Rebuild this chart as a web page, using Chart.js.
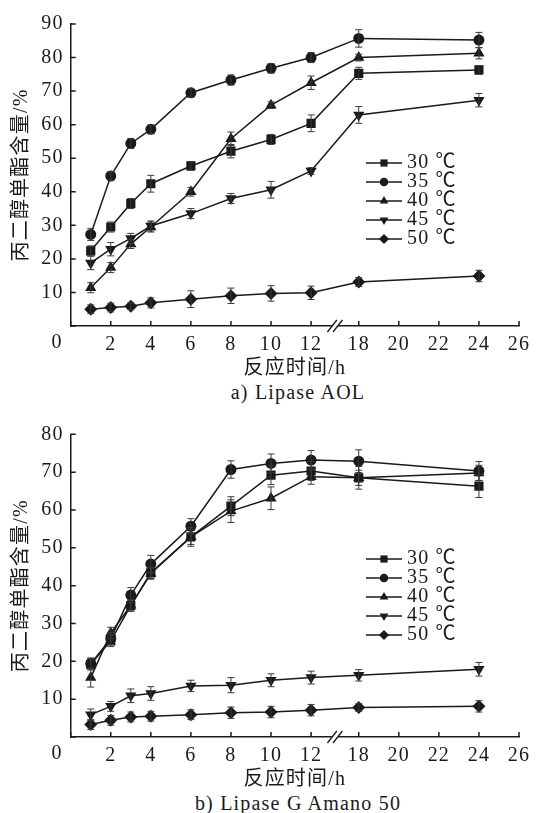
<!DOCTYPE html>
<html>
<head>
<meta charset="utf-8">
<script src="https://cdn.jsdelivr.net/npm/chart.js@4"></script>
<style>
  body { margin: 0; background: #fff; width: 536px; }
  canvas { display: block; }
  .cap { font: 20px 'Times New Roman', 'Liberation Serif', 'Noto Sans CJK SC', serif; color: #1a1a1a; text-align: center;
         height: 22px; line-height: 22px; padding-left: 60px; letter-spacing: 1.2px; }
</style>
</head>
<body>
<canvas id="chartA" width="536" height="381"></canvas>
<div class="cap">a) Lipase AOL</div>
<canvas id="chartB" width="536" height="389"></canvas>
<div class="cap">b) Lipase G Amano 50</div>
<script>
const hours = [1, 2, 3, 4, 6, 8, 10, 12, 18, 24];
const xTicks = [0, 2, 4, 6, 8, 10, 12, 18, 20, 22, 24, 26];
const seriesNames = ['30 ℃', '35 ℃', '40 ℃', '45 ℃', '50 ℃'];

// a) Lipase AOL
const aol30 = [22.4, 29.5, 36.5, 42.4, 47.7, 52.1, 55.6, 60.4, 75.3, 76.3];
const aol35 = [27.3, 44.7, 54.4, 58.6, 69.5, 73.3, 76.8, 80.0, 85.7, 85.2];
const aol40 = [11.4, 17.4, 24.4, 29.5, 40.0, 55.8, 65.8, 72.5, 80.0, 81.3];
const aol45 = [18.8, 22.9, 26.1, 29.8, 33.5, 38.0, 40.6, 46.2, 62.9, 67.3];
const aol50 = [5.0, 5.5, 5.9, 6.9, 8.0, 9.0, 9.7, 9.9, 13.1, 14.9];
const aol30Err = [1.5, 1.5, 1.5, 2.5, 1.3, 2.0, 1.5, 2.5, 1.8, 1.3];
const aol35Err = [1.8, 1.2, 1.5, 1.3, 1.3, 1.5, 1.4, 1.5, 2.6, 2.3];
const aol40Err = [1.5, 1.5, 1.3, 1.5, 1.3, 2.0, 1.0, 2.0, 1.0, 1.7];
const aol45Err = [2.0, 2.0, 1.5, 1.5, 1.5, 1.5, 2.5, 1.0, 2.5, 2.0];
const aol50Err = [1.3, 1.3, 1.0, 1.5, 2.5, 2.3, 2.3, 2.0, 1.3, 1.7];

// b) Lipase G Amano 50
const g30 = [19.2, 25.4, 34.7, 43.4, 52.9, 61.0, 69.2, 70.3, 68.5, 66.3];
const g35 = [19.4, 26.0, 37.5, 45.7, 55.7, 70.7, 72.3, 73.2, 72.9, 70.3];
const g40 = [15.7, 27.5, 34.8, 43.2, 52.9, 59.7, 63.1, 68.8, 68.5, 69.8];
const g45 = [5.9, 8.1, 10.9, 11.5, 13.5, 13.7, 15.0, 15.7, 16.3, 17.9];
const g50 = [3.3, 4.4, 5.3, 5.5, 5.9, 6.4, 6.6, 7.1, 7.8, 8.1];
const g30Err = [1.5, 1.5, 1.5, 1.5, 2.0, 2.5, 2.5, 2.5, 3.0, 3.0];
const g35Err = [1.5, 1.5, 2.0, 2.3, 2.0, 2.3, 2.5, 2.5, 3.0, 2.5];
const g40Err = [2.5, 1.5, 1.5, 1.5, 2.5, 3.0, 3.0, 2.0, 2.0, 2.0];
const g45Err = [1.5, 1.3, 1.8, 1.8, 1.5, 2.0, 1.7, 1.7, 1.5, 1.8];
const g50Err = [1.3, 1.3, 1.3, 1.3, 1.3, 1.5, 1.5, 1.5, 1.0, 1.5];

// axis is broken between 12 h and 18 h
const GAP = 2.38;
const toAxis = h => h <= 12 ? h : h - 18 + 12 + GAP;

const FONT = "'Times New Roman', 'Liberation Serif', 'Noto Sans CJK SC', serif";
const INK = '#1a1a1a';
const markers = [
  { pointStyle: 'rect', radius: 6.5, rotation: 0 },
  { pointStyle: 'circle', radius: 5.5, rotation: 0 },
  { pointStyle: 'triangle', radius: 6.5, rotation: 0 },
  { pointStyle: 'triangle', radius: 6.5, rotation: 180 },
  { pointStyle: 'rectRot', radius: 6.5, rotation: 0 }
];

// error bars, inner ticks, axis break, origin label, legend
const decor = {
  id: 'decor',
  beforeDraw(chart) {
    chart.ctx.letterSpacing = '1.2px';
  },
  afterDraw(chart, args, opts) {
    const ctx = chart.ctx;
    const { left, top, bottom } = chart.chartArea;
    const xs = chart.scales.x, ys = chart.scales.y;
    ctx.save();
    ctx.strokeStyle = '#3a3a3a';
    ctx.fillStyle = INK;

    ctx.lineWidth = 1;
    chart.data.datasets.forEach((ds, i) => {
      chart.getDatasetMeta(i).data.forEach((pt, j) => {
        const v = ds.data[j].y, e = ds.errors[j];
        const y1 = ys.getPixelForValue(v + e), y2 = ys.getPixelForValue(v - e);
        ctx.beginPath();
        ctx.moveTo(pt.x, y1); ctx.lineTo(pt.x, y2);
        ctx.moveTo(pt.x - 3.5, y1); ctx.lineTo(pt.x + 3.5, y1);
        ctx.moveTo(pt.x - 3.5, y2); ctx.lineTo(pt.x + 3.5, y2);
        ctx.stroke();
      });
    });

    ctx.strokeStyle = INK;
    ctx.lineWidth = 1.5;
    ctx.beginPath();
    xs.ticks.forEach(t => {
      const px = xs.getPixelForValue(t.value);
      ctx.moveTo(px, bottom); ctx.lineTo(px, bottom - 5);
    });
    ys.ticks.forEach(t => {
      const py = ys.getPixelForValue(t.value);
      ctx.moveTo(left, py); ctx.lineTo(left + 5, py);
    });
    ctx.stroke();

    const cx = xs.getPixelForValue((toAxis(12) + toAxis(18)) / 2);
    ctx.fillStyle = '#fff';
    ctx.fillRect(cx - 3, bottom - 2, 6, 4);
    ctx.fillStyle = INK;
    ctx.lineWidth = 1.3;
    ctx.beginPath();
    [-2.8, 2.8].forEach(d => {
      ctx.moveTo(cx + d - 4.7, bottom + 6); ctx.lineTo(cx + d + 4.7, bottom - 6);
    });
    ctx.stroke();

    ctx.font = '20px ' + FONT;
    ctx.textAlign = 'center';
    ctx.textBaseline = 'middle';
    ctx.fillText('0', left - 13.5, bottom + 17);

    chart.data.datasets.forEach((ds, i) => {
      const yy = opts.y + i * opts.step;
      ctx.lineWidth = 1.5;
      ctx.beginPath();
      ctx.moveTo(opts.x, yy); ctx.lineTo(opts.x + 36, yy);
      ctx.stroke();
      Chart.helpers.drawPoint(ctx, { pointStyle: markers[i].pointStyle, radius: markers[i].radius * 0.78,
        rotation: markers[i].rotation, borderWidth: 0 }, opts.x + 18, yy);
      ctx.textAlign = 'left';
      ctx.fillText(ds.label, opts.x + 41, yy);
    });
    ctx.restore();
  }
};

function makeChart(id, values, errors, yMax, padTop, legendY) {
  return new Chart(document.getElementById(id), {
    type: 'line',
    data: {
      datasets: values.map((vals, i) => ({
        label: seriesNames[i],
        data: vals.map((v, j) => ({ x: toAxis(hours[j]), y: v })),
        errors: errors[i],
        borderColor: INK,
        backgroundColor: INK,
        borderWidth: 1.5,
        pointStyle: markers[i].pointStyle,
        pointRadius: markers[i].radius,
        pointRotation: markers[i].rotation,
        pointBorderWidth: 0,
        tension: 0
      }))
    },
    options: {
      responsive: false,
      animation: false,
      layout: { padding: { top: padTop, right: 13, left: 0, bottom: 0 } },
      scales: {
        x: {
          type: 'linear',
          min: 0,
          max: toAxis(26),
          afterBuildTicks: s => { s.ticks = xTicks.map(v => ({ value: toAxis(v) })); },
          afterFit: s => { s.height = 55; },
          ticks: {
            color: INK, font: { family: FONT, size: 20 }, padding: 7, maxRotation: 0, autoSkip: false,
            callback: (val, i) => xTicks[i] === 0 ? '' : String(xTicks[i])
          },
          grid: { drawOnChartArea: false, drawTicks: false },
          border: { color: INK, width: 1.5 },
          title: { display: true, text: '反应时间/h', color: INK, font: { family: FONT, size: 20 }, padding: 0 }
        },
        y: {
          min: 0,
          max: yMax,
          afterFit: s => { s.width = 70.7; },
          ticks: {
            stepSize: 10, color: INK, font: { family: FONT, size: 20 }, padding: 7,
            callback: v => v === 0 ? '' : v
          },
          grid: { drawOnChartArea: false, drawTicks: false },
          border: { color: INK, width: 1.5 },
          title: { display: true, text: '丙二醇单酯含量/%', color: INK, font: { family: FONT, size: 20 },
                   padding: { top: 10, bottom: 0 } }
        }
      },
      plugins: {
        legend: { display: false },
        tooltip: { enabled: false },
        decor: { x: 366, y: legendY, step: 19 }
      }
    },
    plugins: [decor]
  });
}

makeChart('chartA', [aol30, aol35, aol40, aol45, aol50],
  [aol30Err, aol35Err, aol40Err, aol45Err, aol50Err], 90, 24, 163);
makeChart('chartB', [g30, g35, g40, g45, g50],
  [g30Err, g35Err, g40Err, g45Err, g50Err], 80, 31.3, 156);
</script>
</body>
</html>
